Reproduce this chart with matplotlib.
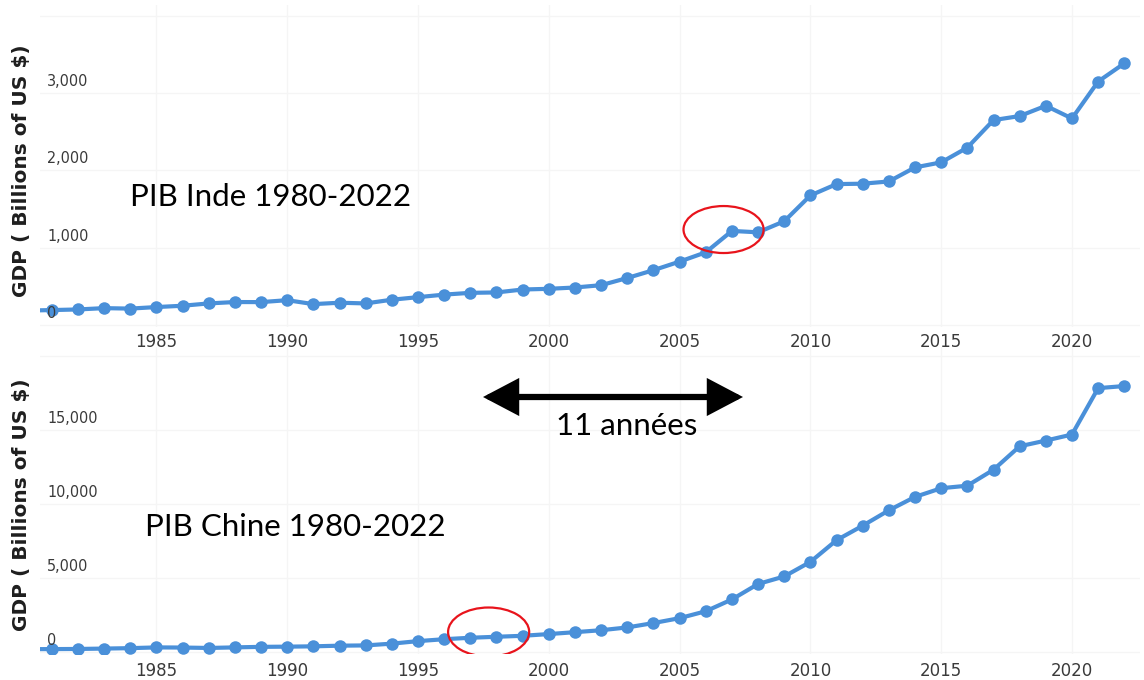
import matplotlib
matplotlib.use("Agg")
import matplotlib.pyplot as plt
from matplotlib.patches import Ellipse, FancyArrowPatch

years = list(range(1980, 2023))
india_gdp = [186, 193, 201, 218, 212, 232, 249, 279, 297, 296,
             321, 270, 288, 279, 327, 360, 393, 416, 421, 459,
             468, 485, 515, 608, 709, 820, 940, 1217, 1199, 1342,
             1676, 1823, 1828, 1857, 2039, 2104, 2295, 2651, 2703, 2836,
             2672, 3150, 3385]
china_gdp = [191, 196, 205, 231, 260, 310, 301, 273, 312, 348,
             361, 383, 427, 445, 564, 735, 864, 962, 1029, 1094,
             1211, 1339, 1471, 1660, 1955, 2286, 2752, 3550, 4594, 5102,
             6087, 7552, 8532, 9570, 10476, 11062, 11233, 12310, 13895, 14280,
             14688, 17821, 17963]

x_ticks = [1985, 1990, 1995, 2000, 2005, 2010, 2015, 2020]
india_yticks = [0, 1000, 2000, 3000]
india_ylabels = ["0", "1,000", "2,000", "3,000"]
china_yticks = [0, 5000, 10000, 15000]
china_ylabels = ["0", "5,000", "10,000", "15,000"]

ylabel_text = "GDP ( Billions of US $)"
title_india = "PIB Inde 1980-2022"
title_china = "PIB Chine 1980-2022"
arrow_text = "11 années"

W, H = 1144, 680
fig = plt.figure(figsize=(W / 100, H / 100), dpi=100)
fig.patch.set_facecolor("white")

line_color = "#4a90d9"
tick_color = "#3a3a3a"


def px_axes(left, top, right, bottom):
    return [left / W, 1 - bottom / H, (right - left) / W, (bottom - top) / H]


ax1 = fig.add_axes(px_axes(40, 5, 1140, 327))
ax2 = fig.add_axes(px_axes(40, 347, 1140, 654))

panels = [
    (ax1, india_gdp, india_yticks, india_ylabels, (-26, 4140), 4000),
    (ax2, china_gdp, china_yticks, china_ylabels, (-135, 20600), 20000),
]

for ax, vals, yt, yl, ylim, extra in panels:
    ax.plot(years, vals, color=line_color, lw=3, marker="o", markersize=9,
            markeredgewidth=0, zorder=3)
    ax.set_xlim(1980.55, 2022.6)
    ax.set_ylim(*ylim)
    ax.set_xticks(x_ticks)
    ax.set_xticklabels([str(t) for t in x_ticks])
    ax.set_yticks(yt + [extra])
    ax.set_yticklabels([])
    ax.tick_params(axis="x", length=0, pad=4, labelsize=12, labelcolor=tick_color)
    ax.tick_params(axis="y", length=0, labelleft=False)
    for s in ax.spines.values():
        s.set_visible(False)
    ax.grid(True, color="#f5f5f5", lw=1)
    ax.set_axisbelow(True)
    for v, lab in zip(yt, yl):
        ax.annotate(lab, xy=(0, v), xycoords=("axes fraction", "data"),
                    xytext=(5, 3), textcoords="offset points",
                    ha="left", va="bottom", fontsize=11.5, color=tick_color,
                    fontstretch="condensed")
    ax.set_ylabel(ylabel_text, fontsize=14.5, fontweight="bold",
                  color="#1e1e1e", family="DejaVu Sans")
    ax.yaxis.set_label_coords(-0.008, 0.485)

ax2.tick_params(axis="x", pad=6)

# red ellipses highlighting the comparable levels
ax1.add_patch(Ellipse((2006.68, 1235), 3.06, 608, fill=False,
                      edgecolor="#e8141c", lw=1.6, zorder=4))
ax2.add_patch(Ellipse((1997.7, 1350), 3.1, 3310, fill=False,
                      edgecolor="#e8141c", lw=1.6, zorder=4))

font_ann = "Lato"
fig.text(130 / W, 1 - 197 / H, title_india, fontsize=22.5, family=font_ann,
         ha="left", va="center", color="black")
fig.text(145 / W, 1 - 527 / H, title_china, fontsize=22.5, family=font_ann,
         ha="left", va="center", color="black")
fig.text(627 / W, 1 - 426 / H, arrow_text, fontsize=22.5, family=font_ann,
         ha="center", va="center", color="black")

arrow = FancyArrowPatch((483 / W, 1 - 397 / H), (743 / W, 1 - 397 / H),
                        transform=fig.transFigure,
                        arrowstyle="<|-|>,head_length=0.95,head_width=0.5",
                        mutation_scale=20, lw=4.5, color="black",
                        shrinkA=0, shrinkB=0, joinstyle="miter")
fig.add_artist(arrow)

fig.savefig("out.png", dpi=100)
